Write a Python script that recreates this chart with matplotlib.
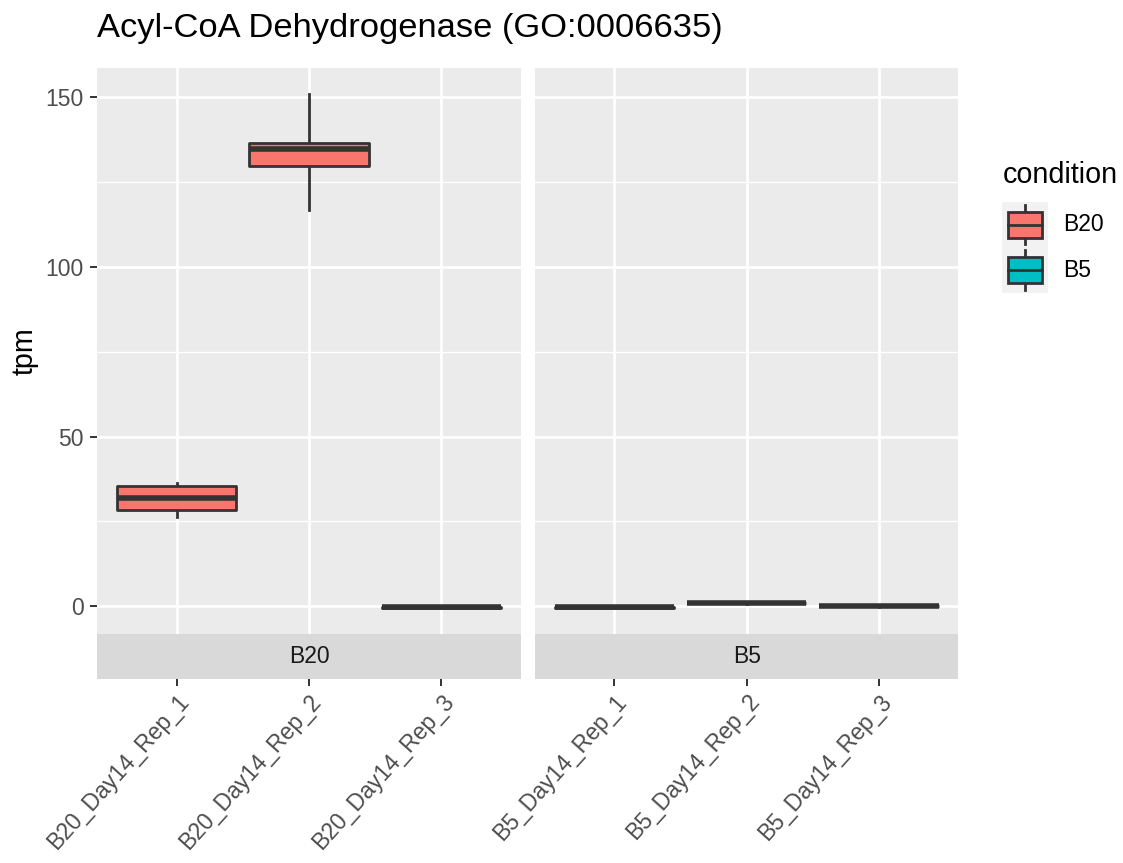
import matplotlib
matplotlib.use("Agg")
import matplotlib.pyplot as plt
from matplotlib.patches import Rectangle
from matplotlib.lines import Line2D

plt.rcParams['font.family'] = ['Liberation Sans', 'DejaVu Sans']

# ---- data -------------------------------------------------------------
title = "Acyl-CoA Dehydrogenase (GO:0006635)"
y_label = "tpm"
legend_title = "condition"
conditions = ["B20", "B5"]

b20_samples = ["B20_Day14_Rep_1", "B20_Day14_Rep_2", "B20_Day14_Rep_3"]
b20_whislo = [26.3, 116.8, -0.5]
b20_q1 = [28.3, 129.6, -0.4]
b20_med = [31.9, 134.8, -0.3]
b20_q3 = [35.4, 136.5, -0.2]
b20_whishi = [36.3, 150.9, -0.1]

b5_samples = ["B5_Day14_Rep_1", "B5_Day14_Rep_2", "B5_Day14_Rep_3"]
b5_whislo = [-0.6, 0.8, -0.1]
b5_q1 = [-0.4, 0.9, 0.0]
b5_med = [-0.3, 1.0, 0.1]
b5_q3 = [-0.2, 1.1, 0.2]
b5_whishi = [-0.1, 1.2, 0.3]

y_major = [0, 50, 100, 150]
y_minor = [25, 75, 125]

# ---- styling ----------------------------------------------------------
fill = {"B20": "#F8766D", "B5": "#00BFC4"}
ink = "#333333"
panel_bg = "#EBEBEB"
strip_bg = "#D9D9D9"
axis_text = "#4D4D4D"

W, H = 1123, 863
fig = plt.figure(figsize=(W / 100, H / 100), dpi=100)
fig.patch.set_facecolor("white")

panel_lefts = [97.3, 535.0]
panel_w = 423.4
panel_top, panel_bottom, strip_bottom = 68.3, 634.0, 679.0

groups = {
    "B20": (b20_samples, b20_whislo, b20_q1, b20_med, b20_q3, b20_whishi),
    "B5": (b5_samples, b5_whislo, b5_q1, b5_med, b5_q3, b5_whishi),
}

all_lo = min(b20_whislo + b5_whislo)
all_hi = max(b20_whishi + b5_whishi)
pad = 0.05 * (all_hi - all_lo)
ylim = (all_lo - pad, all_hi + pad)

first_ax = None
for i, cond in enumerate(conditions):
    samples, lo, q1, med, q3, hi = groups[cond]
    left = panel_lefts[i]
    ax = fig.add_axes([left / W, 1 - panel_bottom / H, panel_w / W,
                       (panel_bottom - panel_top) / H],
                      sharey=first_ax)
    if first_ax is None:
        first_ax = ax
    ax.set_facecolor(panel_bg)
    for s in ax.spines.values():
        s.set_visible(False)

    stats = [dict(med=m, q1=a, q3=b, whislo=l, whishi=h, fliers=[])
             for l, a, m, b, h in zip(lo, q1, med, q3, hi)]
    positions = list(range(1, len(samples) + 1))
    bp = ax.bxp(stats, positions=positions, widths=0.9, patch_artist=True,
                showcaps=False, showfliers=False,
                boxprops=dict(facecolor=fill[cond], edgecolor=ink, linewidth=2.0),
                whiskerprops=dict(color=ink, linewidth=2.0),
                medianprops=dict(color=ink, linewidth=4.0, solid_capstyle="butt"))
    for b in bp["boxes"]:
        b.set_joinstyle("round")
        b.set_zorder(3)
    for m in bp["medians"]:
        m.set_zorder(4)

    ax.set_xlim(0.4, len(samples) + 0.6)
    ax.set_ylim(*ylim)
    ax.set_xticks(positions)
    ax.set_yticks(y_major)
    ax.set_yticks(y_minor, minor=True)
    ax.set_axisbelow(True)
    ax.grid(which="major", color="white", linewidth=2.0)
    ax.grid(which="minor", axis="y", color="white", linewidth=1.0)
    ax.tick_params(axis="x", length=0, labelbottom=False)
    ax.tick_params(axis="y", which="minor", length=0)
    if i == 0:
        ax.tick_params(axis="y", which="major", length=5, width=1.4,
                       color=ink, labelsize=16.5, labelcolor=axis_text, pad=5)
    else:
        ax.tick_params(axis="y", which="major", length=0, labelleft=False)

    # strip below the panel carrying the sample ticks
    sax = fig.add_axes([left / W, 1 - strip_bottom / H, panel_w / W,
                        (strip_bottom - panel_bottom) / H], sharex=ax)
    sax.set_facecolor(strip_bg)
    for s in sax.spines.values():
        s.set_visible(False)
    sax.set_yticks([])
    sax.set_xticks(positions)
    sax.set_xticklabels(samples)
    sax.tick_params(axis="x", length=5, width=1.4, color=ink,
                    labelsize=16.5, labelcolor=axis_text, pad=3)
    for lbl in sax.get_xticklabels():
        lbl.set_rotation(48)
        lbl.set_ha("right")
        lbl.set_va("top")
        lbl.set_rotation_mode("anchor")
    sax.text(0.5, 0.5, cond, transform=sax.transAxes, ha="center",
             va="center", fontsize=16.5, color="#1A1A1A")

# title and axis title
fig.text(97 / W, 1 - 28 / H, title, fontsize=24.8, ha="left", va="center",
         color="black")
fig.text(25 / W, 1 - 351 / H, y_label, fontsize=20.7, rotation=90,
         ha="center", va="center", color="black")

# legend, laid out in pixel coordinates
lax = fig.add_axes([0, 0, 1, 1], zorder=5)
lax.set_xlim(0, W)
lax.set_ylim(H, 0)
lax.axis("off")
lax.patch.set_alpha(0)
lax.text(1003, 175, legend_title, fontsize=20.7, ha="left", va="center",
         color="black")
key_top, key_h, key_left, key_w = 202.0, 45.5, 1002.0, 46.0
for k, cond in enumerate(conditions):
    top = key_top + k * key_h
    cy = top + key_h / 2
    lax.add_patch(Rectangle((key_left, top), key_w, key_h,
                            facecolor="#F2F2F2", edgecolor="none"))
    cx = key_left + key_w / 2
    lax.add_line(Line2D([cx, cx], [top + 3, top + key_h - 3], color=ink,
                        linewidth=2.0))
    lax.add_patch(Rectangle((key_left + 6, cy - 13), key_w - 12, 26,
                            facecolor=fill[cond], edgecolor=ink,
                            linewidth=2.0, zorder=3))
    lax.add_line(Line2D([key_left + 6, key_left + key_w - 6], [cy, cy],
                        color=ink, linewidth=2.0, zorder=4))
    lax.text(1063, cy, cond, fontsize=16.5, ha="left", va="center",
             color="black")

fig.savefig("out.png", dpi=100)
